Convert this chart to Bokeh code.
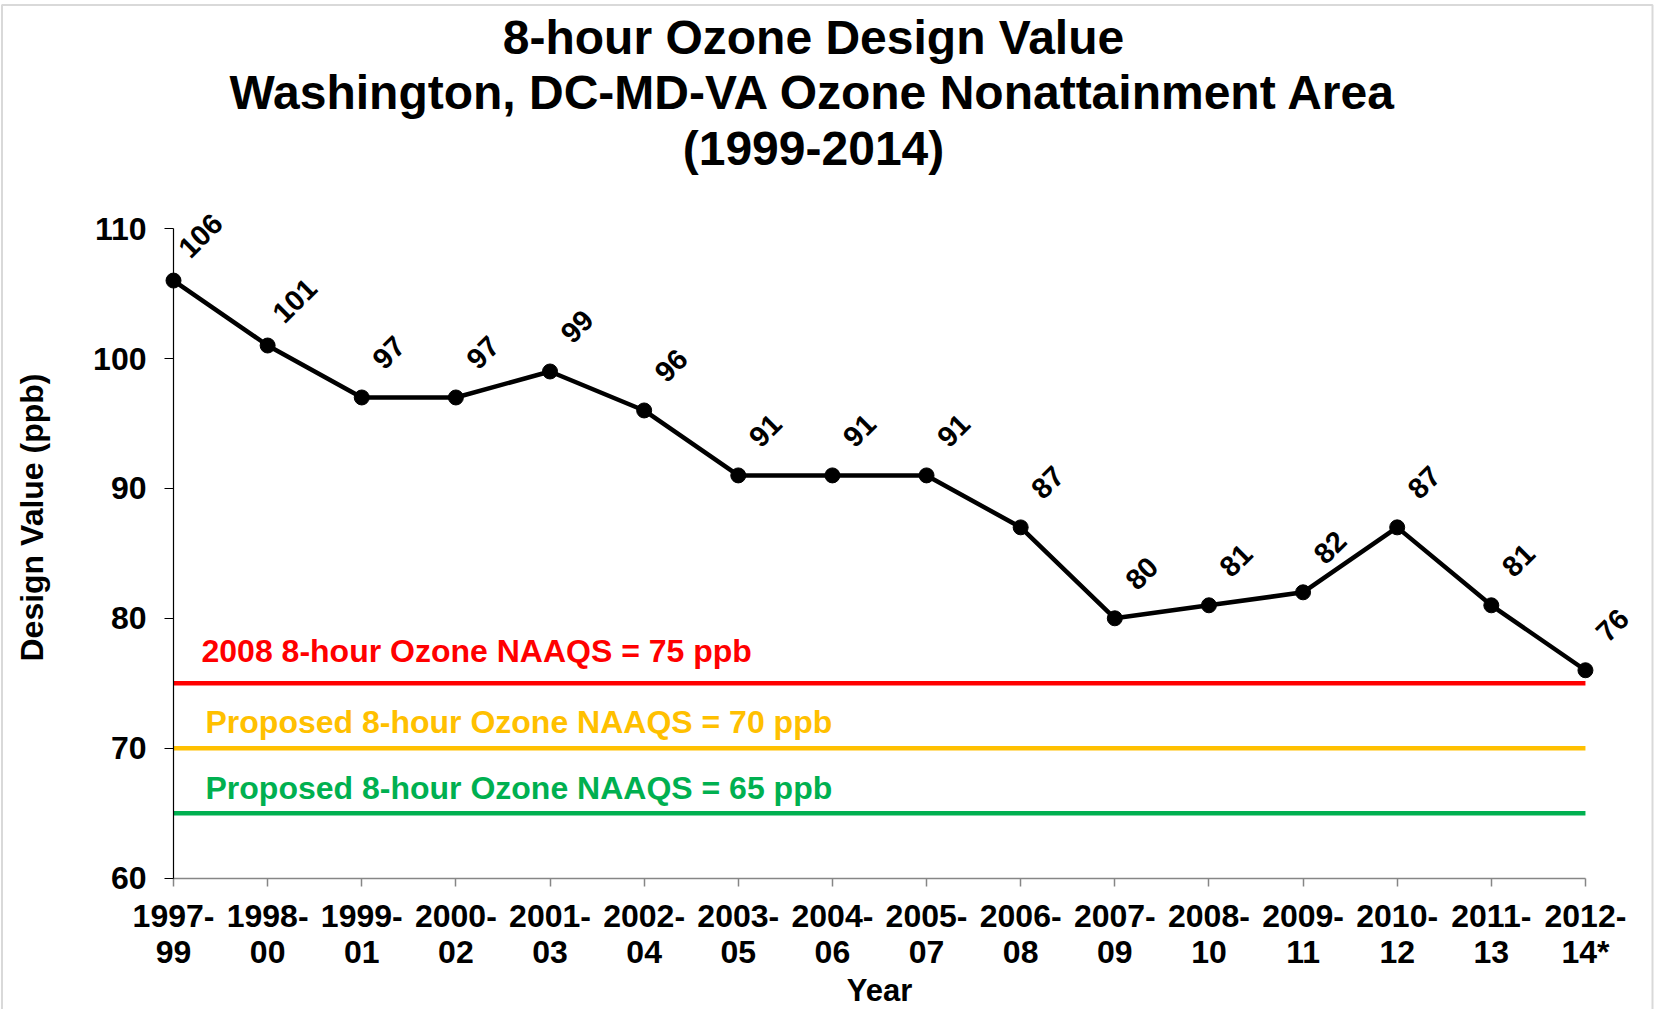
from bokeh.plotting import figure
from bokeh.models import Range1d, FixedTicker, Label, LabelSet, ColumnDataSource, BoxAnnotation
from bokeh.core.properties import value
from bokeh.embed import file_html
from bokeh.resources import INLINE

# ---------------- data ----------------
periods = ["1997-\n99", "1998-\n00", "1999-\n01", "2000-\n02", "2001-\n03", "2002-\n04",
           "2003-\n05", "2004-\n06", "2005-\n07", "2006-\n08", "2007-\n09", "2008-\n10",
           "2009-\n11", "2010-\n12", "2011-\n13", "2012-\n14*"]
design_values = [106, 101, 97, 97, 99, 96, 91, 91, 91, 87, 80, 81, 82, 87, 81, 76]

standard_values = [75, 70, 65]
standard_labels = ["2008 8-hour Ozone NAAQS = 75 ppb",
                   "Proposed 8-hour Ozone NAAQS = 70 ppb",
                   "Proposed 8-hour Ozone NAAQS = 65 ppb"]
standard_colors = ["#FF0000", "#FFC000", "#00B050"]

y_ticks = [60, 70, 80, 90, 100, 110]
title_lines = ["8-hour Ozone Design Value",
               "Washington, DC-MD-VA Ozone Nonattainment Area",
               "(1999-2014)"]
x_title = "Year"
y_title = "Design Value (ppb)"

# ---------------- layout (pixels) ----------------
FONT = "Liberation Sans"
W, H = 1654, 1009
X0_PX, X_STEP = 173.0, 94.13      # pixel of first period, pixels per period
YB_PX, Y_STEP = 877.6, 12.99      # pixel of the y-axis base value, pixels per ppb
n = len(periods)
y_base = y_ticks[0]


def x_at(px):
    return (px - X0_PX) / X_STEP


def y_at(py):
    return y_base + (YB_PX - py) / Y_STEP


p = figure(width=W, height=H, output_backend="svg", toolbar_location=None,
           x_range=Range1d(x_at(0), x_at(W)), y_range=Range1d(y_at(H), y_at(0)),
           min_border=0, min_border_left=0, min_border_right=0,
           min_border_top=0, min_border_bottom=0)
p.title.visible = False
p.xgrid.visible = False
p.ygrid.visible = False
p.outline_line_color = None
p.background_fill_color = "white"
p.border_fill_color = "white"

# chart border
p.add_layout(BoxAnnotation(left=x_at(1.5), right=x_at(1652), top=y_at(4.5), bottom=y_at(H + 30),
                           fill_color=None, fill_alpha=0, line_color="#808080", line_width=2))

# x axis (sits on the y base value)
xa = p.xaxis[0]
xa.fixed_location = y_base
xa.ticker = FixedTicker(ticks=list(range(n)))
xa.major_label_overrides = {i: lab for i, lab in enumerate(periods)}
xa.bounds = (0, n - 1)
xa.minor_tick_line_color = None
xa.major_tick_out = 8
xa.major_tick_in = 0
xa.axis_line_color = "#868686"
xa.axis_line_width = 1.5
xa.major_tick_line_color = "#868686"
xa.major_tick_line_width = 1.5
xa.major_label_text_font = FONT
xa.major_label_text_font_style = "bold"
xa.major_label_text_font_size = "32px"
xa.major_label_text_color = "black"
xa.major_label_text_line_height = 1.0
xa.major_label_standoff = 12

# y axis (sits on the first period)
ya = p.yaxis[0]
ya.fixed_location = 0
ya.ticker = FixedTicker(ticks=y_ticks)
ya.bounds = (y_ticks[0], y_ticks[-1])
ya.minor_tick_line_color = None
ya.major_tick_out = 9
ya.major_tick_in = 0
ya.axis_line_color = "black"
ya.axis_line_width = 1.2
ya.major_tick_line_color = "black"
ya.major_tick_line_width = 1.2
ya.major_label_text_font = FONT
ya.major_label_text_font_style = "bold"
ya.major_label_text_font_size = "32px"
ya.major_label_text_color = "black"
ya.major_label_standoff = 18

# standards lines
for val, lab, col, yoff, xoff in zip(standard_values, standard_labels, standard_colors,
                                     [32, 26, 25], [28, 32, 32]):
    p.line([0, n - 1], [val, val], line_color=col, line_width=4.5)
    p.add_layout(Label(x=0, y=val, x_offset=xoff, y_offset=yoff, text=lab,
                       text_font=FONT, text_font_style="bold", text_font_size="32px",
                       text_color=col, text_baseline="alphabetic", text_align="left"))

# data series
src = ColumnDataSource(dict(x=list(range(n)), y=design_values,
                            label=[str(v) for v in design_values]))
p.line("x", "y", source=src, line_color="black", line_width=4.5)
p.scatter("x", "y", source=src, size=15, fill_color="black", line_color="black")
p.add_layout(LabelSet(x="x", y="y", text="label", source=src, angle=45, angle_units="deg",
                      x_offset=27, y_offset=45, text_align="center", text_baseline="middle",
                      text_font=value(FONT), text_font_style="bold", text_font_size="29px",
                      text_color="black"))

# titles
for txt, py in zip(title_lines, [37, 92, 148]):
    p.add_layout(Label(x=x_at(813), y=y_at(py), text=txt, text_font=FONT, text_font_style="bold",
                       text_font_size="48px", text_align="center", text_baseline="middle",
                       text_color="black"))

p.add_layout(Label(x=(n - 1) / 2, y=y_at(990), text=x_title, text_font=FONT, text_font_style="bold",
                   text_font_size="31px", text_align="center", text_baseline="middle",
                   text_color="black"))
p.add_layout(Label(x=x_at(31), y=y_at(517), text=y_title, text_font=FONT, text_font_style="bold",
                   text_font_size="32px", text_align="center", text_baseline="middle",
                   angle=90, angle_units="deg", text_color="black"))

open("out.html", "w").write(file_html(p, INLINE))
